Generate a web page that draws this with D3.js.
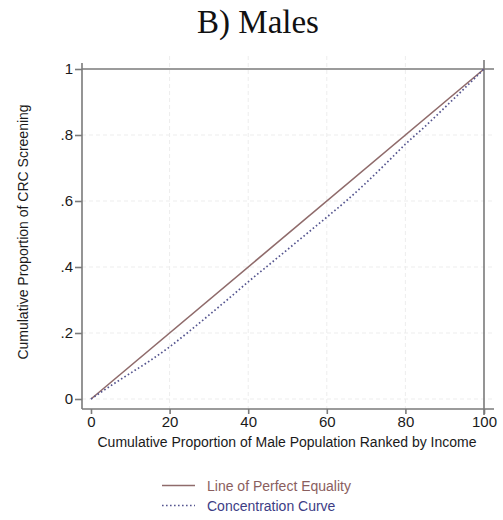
<!DOCTYPE html>
<html>
<head>
<meta charset="utf-8">
<script src="https://cdn.jsdelivr.net/npm/d3@7"></script>
<style>
  body { margin: 0; background: #fff; }
  svg { display: block; }
</style>
</head>
<body>
<div id="chart"></div>
<script>
'use strict';

// data
var popShare = [0, 5, 10, 15, 20, 25, 30, 35, 40, 45, 50, 55, 60, 65, 70, 75, 80, 85, 90, 95, 100];
var concentration = [0, 0.04, 0.078, 0.116, 0.158, 0.205, 0.254, 0.304, 0.355, 0.404, 0.453, 0.502, 0.551, 0.601, 0.655, 0.713, 0.772, 0.826, 0.883, 0.941, 1];
var equality = [0, 1];
var xTicks = [0, 20, 40, 60, 80, 100];
var yTicks = [0, 0.2, 0.4, 0.6, 0.8, 1];
var yTickLabels = ['0', '.2', '.4', '.6', '.8', '1'];
var legendNames = ['Line of Perfect Equality', 'Concentration Curve'];

var width = 503,
  height = 520,
  region = { left: 82, right: 494, top: 60, bottom: 409 },
  lineColor = '#8f6b6b',
  curveColor = '#55558f',
  axisColor = '#7a7a7a',
  sans = '"Liberation Sans", Arial, sans-serif';

var svg = d3.select('#chart').append('svg')
  .attr('width', width)
  .attr('height', height);

var x = d3.scaleLinear().domain([0, 100]).range([91, 484]);
var y = d3.scaleLinear().domain([0, 1]).range([399, 69]);

// title
svg.append('text')
  .attr('x', 258)
  .attr('y', 33)
  .attr('text-anchor', 'middle')
  .style('font-family', '"Liberation Serif", "Times New Roman", serif')
  .style('font-size', '33px')
  .style('fill', '#111')
  .text('B) Males');

// faint grid
var grid = svg.append('g').attr('class', 'grid');
grid.selectAll('line.h')
  .data(yTicks.slice(0, 5))
  .enter().append('line')
  .attr('class', 'h')
  .attr('x1', region.left).attr('x2', region.right)
  .attr('y1', function (d) { return y(d); })
  .attr('y2', function (d) { return y(d); });
grid.selectAll('line.v')
  .data(xTicks.slice(1, 5))
  .enter().append('line')
  .attr('class', 'v')
  .attr('y1', region.top - 4).attr('y2', region.bottom)
  .attr('x1', function (d) { return x(d); })
  .attr('x2', function (d) { return x(d); });
grid.selectAll('line')
  .attr('stroke', '#ededed')
  .attr('stroke-width', 1)
  .attr('stroke-dasharray', '4,3');

// reference lines at y = 1 and x = 100
svg.append('line')
  .attr('x1', region.left).attr('x2', region.right)
  .attr('y1', y(1)).attr('y2', y(1))
  .attr('stroke', axisColor).attr('stroke-width', 1.6);
svg.append('line')
  .attr('x1', x(100)).attr('x2', x(100))
  .attr('y1', region.top).attr('y2', region.bottom + 6)
  .attr('stroke', axisColor).attr('stroke-width', 1.6);

// axes
var xAxis = d3.axisBottom(x)
  .tickValues(xTicks)
  .tickSize(5)
  .tickSizeOuter(0)
  .tickPadding(2);
var yAxis = d3.axisLeft(y)
  .tickValues(yTicks)
  .tickFormat(function (d, i) { return yTickLabels[i]; })
  .tickSize(7)
  .tickSizeOuter(0)
  .tickPadding(2);

var gx = svg.append('g')
  .attr('transform', 'translate(0,' + region.bottom + ')')
  .call(xAxis);
gx.select('.domain').attr('d', 'M' + region.left + ',0H' + region.right);

var gy = svg.append('g')
  .attr('transform', 'translate(' + region.left + ',0)')
  .call(yAxis);
gy.select('.domain').attr('d', 'M0,' + region.bottom + 'V' + (region.top + 3));

svg.selectAll('.domain, .tick line')
  .attr('stroke', axisColor)
  .attr('stroke-width', 1.6);
svg.selectAll('.tick text')
  .style('font-family', sans)
  .style('font-size', '15px')
  .style('fill', '#1a1a1a');

// axis titles
svg.append('text')
  .attr('x', 287)
  .attr('y', 447)
  .attr('text-anchor', 'middle')
  .style('font-family', sans)
  .style('font-size', '14px')
  .style('fill', '#1a1a1a')
  .text('Cumulative Proportion of Male Population Ranked by Income');

svg.append('text')
  .attr('transform', 'translate(28,' + 232 + ') rotate(-90)')
  .attr('text-anchor', 'middle')
  .style('font-family', sans)
  .style('font-size', '14px')
  .style('fill', '#1a1a1a')
  .text('Cumulative Proportion of CRC Screening');

// lines
var line = d3.line()
  .x(function (d) { return x(d[0]); })
  .y(function (d) { return y(d[1]); });

svg.append('path')
  .datum(equality.map(function (v) { return [v * 100, v]; }))
  .attr('d', line)
  .attr('fill', 'none')
  .attr('stroke', lineColor)
  .attr('stroke-width', 1.6);

svg.append('path')
  .datum(popShare.map(function (p, i) { return [p, concentration[i]]; }))
  .attr('d', line.curve(d3.curveMonotoneX))
  .attr('fill', 'none')
  .attr('stroke', curveColor)
  .attr('stroke-width', 1.7)
  .attr('stroke-dasharray', '1.6,2.4');

// legend
var legend = svg.append('g').attr('class', 'legend');
var rows = legend.selectAll('g')
  .data(legendNames)
  .enter().append('g')
  .attr('transform', function (d, i) { return 'translate(0,' + (485.5 + i * 20) + ')'; });

rows.append('line')
  .attr('x1', 162).attr('x2', 195)
  .attr('y1', 0).attr('y2', 0)
  .attr('stroke', function (d, i) { return i ? curveColor : lineColor; })
  .attr('stroke-width', 1.6)
  .attr('stroke-dasharray', function (d, i) { return i ? '1.6,2.4' : null; });

rows.append('text')
  .attr('x', 207)
  .attr('y', 5)
  .style('font-family', sans)
  .style('font-size', '14px')
  .style('fill', function (d, i) { return i ? '#3d3d85' : '#8a5e5e'; })
  .text(function (d) { return d; });
</script>
</body>
</html>
